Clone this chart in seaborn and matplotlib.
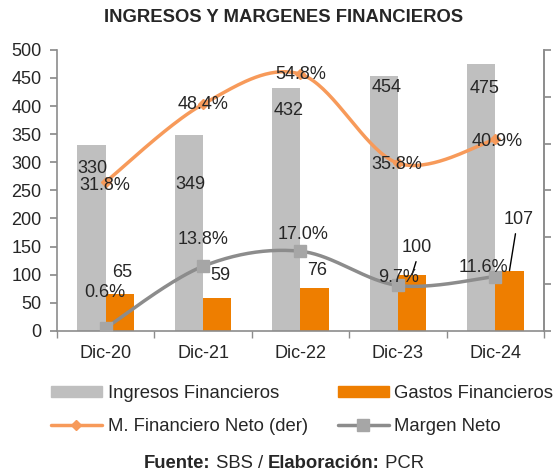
import numpy as np
import pandas as pd
import matplotlib
matplotlib.use("Agg")
import matplotlib.pyplot as plt
from matplotlib.patches import Patch
from matplotlib.lines import Line2D
import seaborn as sns

# data
periodos = ["Dic-20", "Dic-21", "Dic-22", "Dic-23", "Dic-24"]
ingresos = [330, 349, 432, 454, 475]
gastos = [65, 59, 76, 100, 107]
m_fin_neto = [31.8, 48.4, 54.8, 35.8, 40.9]
margen_neto = [0.6, 13.8, 17.0, 9.7, 11.6]

colour_scheme = {"ingresos": "#BFBFBF", "gastos": "#EE7E00",
                 "mfin": "#F79A5A", "margen": "#8C8C8C", "axis": "#8C8C8C"}
font_size = 13
legend_size = 13.3

sns.set_theme(style="white")
plt.rcParams["font.family"] = ["Liberation Sans", "DejaVu Sans"]


def smooth(xs, ys, n=40):
    # Catmull-Rom curve through the points (Excel "smoothed line")
    xs = np.asarray(xs, float)
    ys = np.asarray(ys, float)
    px = np.concatenate([[xs[0]], xs, [xs[-1]]])
    py = np.concatenate([[ys[0]], ys, [ys[-1]]])
    out_x, out_y = [], []
    t = np.linspace(0, 1, n)
    for i in range(1, len(px) - 2):
        for p, out in ((px, out_x), (py, out_y)):
            p0, p1, p2, p3 = p[i - 1], p[i], p[i + 1], p[i + 2]
            c1 = p1 + (p2 - p0) / 6
            c2 = p2 - (p3 - p1) / 6
            b = ((1 - t) ** 3 * p1 + 3 * (1 - t) ** 2 * t * c1
                 + 3 * (1 - t) * t ** 2 * c2 + t ** 3 * p2)
            out.extend(b)
    return np.array(out_x), np.array(out_y)


df = pd.DataFrame({
    "periodo": periodos * 2,
    "valor": ingresos + gastos,
    "serie": ["Ingresos Financieros"] * 5 + ["Gastos Financieros"] * 5,
})

fig = plt.figure(figsize=(5.58, 4.70), dpi=100)
ax = fig.add_axes([0.102, 0.296, 0.873, 0.598])
sns.barplot(data=df, x="periodo", y="valor", hue="serie", ax=ax, width=0.58,
            palette=[colour_scheme["ingresos"], colour_scheme["gastos"]],
            saturation=1, legend=False, linewidth=0, edgecolor="none")
ax.set_xlim(-0.5, 4.5)
ax.set_ylim(0, 500)
ax.set_yticks(np.arange(0, 501, 50))
ax.set_xlabel("")
ax.set_ylabel("")
ax.set_xticks(np.arange(5))
ax.set_xticklabels(periodos, fontsize=font_size)
ax.set_xticks(np.arange(-0.5, 5, 1), minor=True)
ax.tick_params(axis="x", which="major", length=0, pad=10)
ax.tick_params(axis="x", which="minor", length=5, color=colour_scheme["axis"],
               direction="out", bottom=True)
ax.tick_params(axis="y", length=5, color=colour_scheme["axis"], direction="out",
               left=True, labelsize=font_size, pad=6)
for s in ["left", "bottom", "right"]:
    ax.spines[s].set_color(colour_scheme["axis"])
    ax.spines[s].set_linewidth(1.2)
ax.spines["top"].set_visible(False)
ax.grid(False)

ax2 = ax.twinx()
ax2.set_ylim(0, 60)
ax2.set_yticks(np.arange(0, 61, 10))
ax2.set_yticklabels([])
ax2.tick_params(axis="y", length=5, color=colour_scheme["axis"], direction="out", right=True)
for s in ["left", "bottom", "top"]:
    ax2.spines[s].set_visible(False)
ax2.spines["right"].set_color(colour_scheme["axis"])
ax2.spines["right"].set_linewidth(1.2)
ax2.grid(False)

xpos = np.arange(5)
sx, sy = smooth(xpos, m_fin_neto)
ax2.plot(sx, sy, color=colour_scheme["mfin"], lw=2.5, zorder=3)
ax2.plot(xpos, m_fin_neto, ls="none", marker="D", ms=5, color=colour_scheme["mfin"], zorder=4)
sx, sy = smooth(xpos, margen_neto)
ax2.plot(sx, sy, color=colour_scheme["margen"], lw=2.5, zorder=3)
ax2.plot(xpos, margen_neto, ls="none", marker="s", ms=8, color="#A6A6A6", zorder=4)

# data labels (offsets in pixels)
ingresos_off = [(1, -23), (1, -50), (2, -22), (3, -12), (3, -25)]
gastos_off = [(2, 22), (3, 22), (3, 18), (5, 27), (9, 51)]
mfin_off = [(-1, -4), (0, 0), (0, 0), (-1, -1), (2, -2)]
margen_off = [(-1, 36), (0, 27), (3, 17), (1, 8), (-12, 9)]

for i in range(5):
    ax.annotate(str(ingresos[i]), (i - 0.145, ingresos[i]), xytext=ingresos_off[i],
                textcoords="offset pixels", ha="center", va="center", fontsize=font_size)
    ax.annotate(str(gastos[i]), (i + 0.145, gastos[i]), xytext=gastos_off[i],
                textcoords="offset pixels", ha="center", va="center", fontsize=font_size)
    ax2.annotate(f"{m_fin_neto[i]:.1f}%", (i, m_fin_neto[i]), xytext=mfin_off[i],
                 textcoords="offset pixels", ha="center", va="center", fontsize=font_size, zorder=6)
    ax2.annotate(f"{margen_neto[i]:.1f}%", (i, margen_neto[i]), xytext=margen_off[i],
                 textcoords="offset pixels", ha="center", va="center", fontsize=font_size, zorder=6)

# leader lines for last two gastos labels
leader = {3: (-1, -14), 4: (-3, -14)}
for i, start in leader.items():
    dx, dy = gastos_off[i]
    ax.annotate("", (i + 0.145, gastos[i]), xytext=(dx + start[0], dy + start[1]),
                textcoords="offset pixels",
                arrowprops=dict(arrowstyle="-", color="black", lw=1, shrinkA=0, shrinkB=0),
                annotation_clip=False)

fig.text(284 / 558, 0.962, "INGRESOS Y MARGENES FINANCIEROS", ha="center", va="center",
         fontsize=13.3, fontweight="bold")

handles = [
    Patch(color=colour_scheme["ingresos"], label="Ingresos Financieros"),
    Line2D([], [], color=colour_scheme["mfin"], lw=2.5, marker="D", ms=5,
           label="M. Financiero Neto (der)"),
    Patch(color=colour_scheme["gastos"], label="Gastos Financieros"),
    Line2D([], [], color=colour_scheme["margen"], lw=2.5, marker="s", ms=8,
           markerfacecolor="#A6A6A6", markeredgecolor="#A6A6A6", label="Margen Neto"),
]
fig.legend(handles=handles, ncol=2, loc="upper left", bbox_to_anchor=(51 / 558, 1 - 385 / 470),
           borderpad=0, borderaxespad=0, frameon=False, fontsize=legend_size,
           handlelength=2.76, handleheight=0.5, columnspacing=1.6,
           labelspacing=0.85, handletextpad=0.32)

# source line: bold/normal pieces placed side by side
pieces = [("Fuente:", "bold"), (" SBS / ", "normal"), ("Elaboración:", "bold"), (" PCR", "normal")]
renderer = fig.canvas.get_renderer()
texts = [fig.text(0, 1 - 463 / 470, s, fontsize=13.3, fontweight=w, va="center") for s, w in pieces]
widths = [t.get_window_extent(renderer).width for t in texts]
x0 = 284 - sum(widths) / 2
for t, w in zip(texts, widths):
    t.set_x(x0 / 558)
    x0 += w

plt.savefig("out.png", dpi=100)
